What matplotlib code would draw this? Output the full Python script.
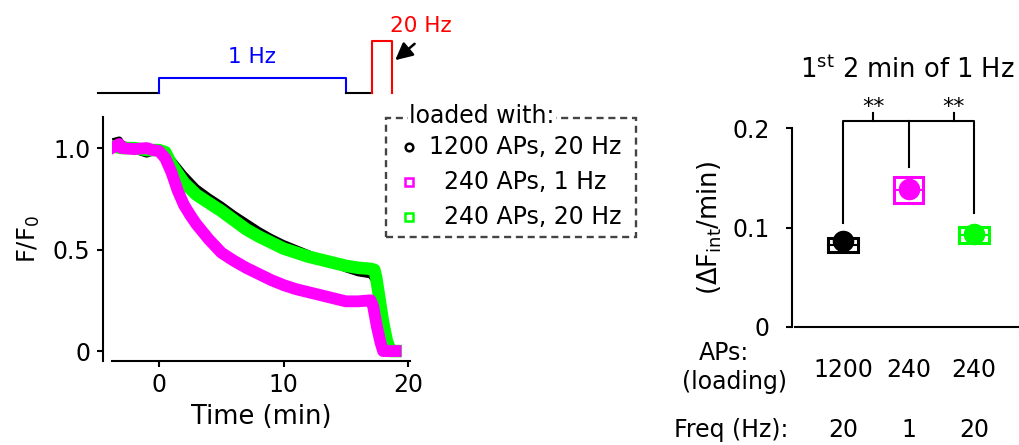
import matplotlib
matplotlib.use("Agg")
import matplotlib.pyplot as plt
from matplotlib.lines import Line2D
from matplotlib.patches import Rectangle

plt.rcParams['font.family'] = ['DejaVu Sans']
plt.rcParams['font.size'] = 17
plt.rcParams['axes.linewidth'] = 1.5

# traces (F/F0 vs time, min)
t_black = [-3.8, -3.2, -3, -2, -1.5, -1, -0.5, 0, 0.5, 1, 2, 3, 4, 5, 6, 7, 8, 9, 10,
           11, 12, 13, 14, 15, 16, 17, 17.3, 17.6, 18, 18.5, 19]
f_black = [1.03, 1.04, 1.02, 1.0, 0.98, 0.97, 0.98, 0.99, 0.98, 0.945, 0.87, 0.805,
           0.76, 0.72, 0.675, 0.635, 0.595, 0.56, 0.53, 0.505, 0.48, 0.455, 0.43,
           0.405, 0.385, 0.375, 0.35, 0.25, 0.12, 0.01, 0.0]

t_green = [-3.8, -3, -2, -1, 0, 0.5, 1, 1.5, 2, 3, 4, 5, 6, 7, 8, 9, 10, 11, 12, 13,
           14, 15, 16, 17, 17.3, 17.45, 17.6, 18, 18.3, 18.6, 19]
f_green = [1.01, 1.0, 1.0, 0.99, 0.99, 0.98, 0.92, 0.875, 0.83, 0.77, 0.73, 0.69,
           0.645, 0.60, 0.565, 0.535, 0.505, 0.485, 0.465, 0.45, 0.435, 0.42, 0.41,
           0.405, 0.40, 0.36, 0.30, 0.14, 0.05, 0.0, 0.0]

t_mag = [-3.8, -3.2, -3, -2, -1, -0.5, 0, 0.5, 1, 1.5, 2, 2.5, 3, 4, 5, 6, 7, 8, 9, 10,
         11, 12, 13, 14, 15, 16, 17, 17.2, 17.5, 17.8, 18, 18.5, 19]
f_mag = [1.0, 1.02, 1.0, 0.995, 1.0, 0.99, 0.985, 0.95, 0.88, 0.79, 0.72, 0.67, 0.625,
         0.55, 0.485, 0.445, 0.41, 0.38, 0.35, 0.325, 0.305, 0.29, 0.275, 0.26, 0.245,
         0.245, 0.25, 0.22, 0.12, 0.04, 0.0, 0.0, 0.0]

legend_labels = ['1200 APs, 20 Hz', '  240 APs, 1 Hz', '  240 APs, 20 Hz']
colors = ['black', '#ff00ff', '#00ff00']

# stimulus protocol
stim_base_t = [-4.9, 0]
stim_1hz_t = [0, 0, 15, 15]
stim_1hz_y = [0, 1, 1, 0]
stim_gap_t = [15, 17.1]
stim_20hz_t = [17.1, 17.1, 18.7, 18.7]
stim_20hz_y = [0, 3.47, 3.47, 0]

# right panel: rate in first 2 min of 1 Hz
groups = [0, 1, 2]
aps = ['1200', '240', '240']
freqs = ['20', '1', '20']
rate_mean = [0.0825, 0.138, 0.0925]
rate_sem = [0.007, 0.013, 0.0085]
rate_dot = [0.086, 0.139, 0.093]

fig = plt.figure(figsize=(10.2, 4.45), dpi=100)

# ---- left: traces
ax = fig.add_axes([112/1020, 84/445, 298/1020, 244/445])
ax.plot(t_black, f_black, color='black', lw=5, zorder=2)
ax.plot(t_green, f_green, color='#00ff00', lw=9, zorder=3)
ax.plot(t_mag, f_mag, color='#ff00ff', lw=8.5, zorder=4)
ax.set_xlim(-3.78, 20.16)
ax.set_ylim(-0.049, 1.153)
ax.spines['top'].set_visible(False)
ax.spines['right'].set_visible(False)
ax.spines['left'].set_position(('outward', 6.5))
ax.set_xticks([0, 10, 20])
ax.set_yticks([0, 0.5, 1.0])
ax.set_yticklabels(['0', '0.5', '1.0'])
ax.tick_params(width=1.5, length=4, pad=5)
ax.set_xlabel('Time (min)', fontsize=18.5, labelpad=5)
ax.set_ylabel('F/F$_0$', fontsize=17.5, labelpad=8)

# ---- top: stimulus
axs = fig.add_axes([112/1020, 335/445, 298/1020, 110/445])
axs.set_xlim(-3.78, 20.16)
axs.set_ylim(-1.13, 6.2)
axs.axis('off')
axs.plot(stim_base_t, [0, 0], color='black', lw=1.5, clip_on=False)
axs.plot(stim_1hz_t, stim_1hz_y, color='blue', lw=1.5, clip_on=False)
axs.plot(stim_gap_t, [0, 0], color='black', lw=1.5, clip_on=False)
axs.plot(stim_20hz_t, stim_20hz_y, color='red', lw=1.5, clip_on=False)
axs.text(7.5, 2.4, '1 Hz', color='blue', fontsize=15.5, ha='center', va='center')
axs.text(21.0, 4.5, '20 Hz', color='red', fontsize=15.5, ha='center', va='center',
         clip_on=False)
axs.annotate('', xy=(18.8, 2.07), xytext=(20.7, 3.4), annotation_clip=False,
             arrowprops=dict(arrowstyle='-|>', color='black', lw=1.8,
                             mutation_scale=26))

# ---- legend (manual)
fig.add_artist(Rectangle((386/1020, 208/445), 250/1020, 119/445,
                         transform=fig.transFigure, fill=False, edgecolor='#444444',
                         lw=1.7, linestyle=(0, (3, 2))))
fig.text(409/1020, 329/445, 'loaded with:', ha='left', va='center',
         bbox=dict(facecolor='white', edgecolor='none', pad=1))
row_y = [298, 263, 228]
markers = ['o', 's', 's']
for lab, c, m, yy in zip(legend_labels, colors, markers, row_y):
    fig.add_artist(Line2D([409/1020], [yy/445], marker=m, markersize=5.5,
                          markeredgewidth=1.8, markeredgecolor=c,
                          markerfacecolor='white', linestyle='none',
                          transform=fig.transFigure))
    fig.text(429/1020, yy/445, lab, ha='left', va='center')

# ---- right: rate panel
ax2 = fig.add_axes([795/1020, 118/445, 225/1020, 199/445])
for g, m, s, d, c in zip(groups, rate_mean, rate_sem, rate_dot, colors):
    ax2.bar(g, 2 * s, bottom=m - s, width=0.45, fill=False, edgecolor=c, lw=2.2,
            zorder=2)
    ax2.plot([g - 0.225, g + 0.225], [m, m], color=c, lw=1.5, zorder=2)
    ax2.plot(g, d, 'o', color=c, markersize=14.5, zorder=3)
ax2.set_xlim(-0.733, 2.70)
ax2.set_ylim(0, 0.2)
ax2.spines['top'].set_visible(False)
ax2.spines['right'].set_visible(False)
ax2.spines['left'].set_position(('outward', 2.5))
ax2.set_yticks([0, 0.1, 0.2])
ax2.set_yticklabels(['0', '0.1', '0.2'])
ax2.tick_params(axis='y', width=1.5, length=4.5, pad=11)
ax2.tick_params(axis='x', bottom=False, labelbottom=False)
ax2.set_ylabel('($\\Delta$F$_{\\mathrm{int}}$/min)', fontsize=18.5, labelpad=6)

# significance bracket
bk = 0.207
ax2.plot([0, 0, 2, 2], [0.1045, bk, bk, 0.1146], color='black', lw=1.5, clip_on=False)
ax2.plot([1, 1], [bk, 0.161], color='black', lw=1.5, clip_on=False)
for xs in [0.46, 1.69]:
    ax2.plot([xs, xs], [bk, 0.215], color='black', lw=1.5, clip_on=False)
    ax2.text(xs, 0.211, '**', ha='center', va='bottom', fontsize=16, clip_on=False)

ax2.set_title('1$^{\\mathrm{st}}$ 2 min of 1 Hz', fontsize=18.5, pad=36)

tr = ax2.get_xaxis_transform()
for g, a, f in zip(groups, aps, freqs):
    ax2.text(g, -0.216, a, transform=tr, ha='center', va='center')
    ax2.text(g, -0.518, f, transform=tr, ha='center', va='center')
ax2.text(-1.817, -0.131, 'APs:', transform=tr, ha='center', va='center')
ax2.text(-1.65, -0.276, '(loading)', transform=tr, ha='center', va='center')
ax2.text(-0.84, -0.518, 'Freq (Hz):', transform=tr, ha='right', va='center')

fig.savefig('out.png', dpi=100)
